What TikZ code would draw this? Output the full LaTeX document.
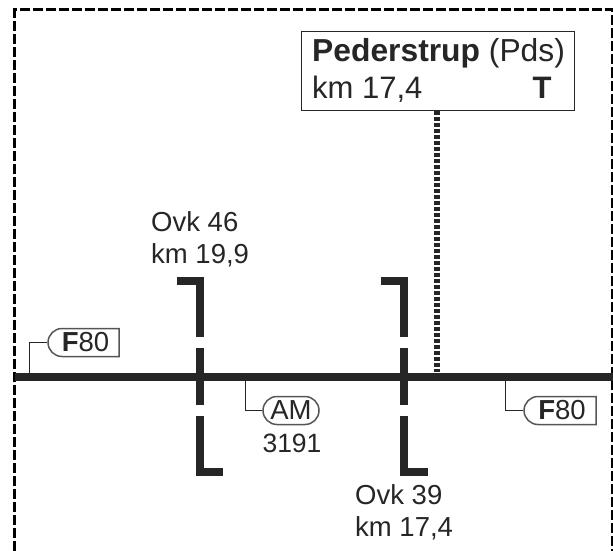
\documentclass[tikz,border=0pt]{standalone}
\usepackage{fontspec}
\setmainfont{Liberation Sans}
\usetikzlibrary{shapes.misc}
\definecolor{inkdark}{HTML}{262626}
\definecolor{signgrey}{HTML}{555555}
\tikzset{
    trackline/.style={draw=inkdark,line width=8pt},
    bridgebar/.style={draw=inkdark,line width=8.5pt,miter limit=10},
    leaderline/.style={draw=inkdark,line width=1pt},
    routesign/.style={draw=signgrey,line width=1.5pt,fill=white,text=inkdark,rounded rectangle,inner sep=0pt,minimum height=28pt,font=\fontsize{27.5}{27.5}\selectfont},
    flatright/.style={rounded rectangle east arc=none},
    ovklabel/.style={align=left,anchor=north west,inner sep=0pt,text=inkdark,font=\fontsize{27.5}{32}\selectfont}
}
\begin{document}
\begin{tikzpicture}[x=1pt,y=-1pt]
    \useasboundingbox (0,0) rectangle (613,551);
    % frame
    \coordinate (fa) at (14.5,551);
    \coordinate (fb) at (14.5,10);
    \coordinate (fc) at (612,10);
    \coordinate (fd) at (612,551);
    \draw[black,line width=3pt,dash pattern=on 10pt off 3pt] (fa) -- (fb) -- (fc) -- (fd);
    % track
    \coordinate (t0) at (15,376.5);
    \coordinate (t1) at (613,376.5);
    \coordinate (f1) at (29,376);
    \coordinate (a1) at (245.5,376);
    \coordinate (f2) at (505,376);
    \coordinate (d1) at (437,372);
    \path[trackline] (t0) -- (t1);
    % bridges
    \coordinate (b0) at (177,281);
    \coordinate (b1) at (200,281);
    \coordinate (b2) at (200,337);
    \coordinate (b3) at (200,348);
    \coordinate (b4) at (200,405);
    \coordinate (b5) at (200,416);
    \coordinate (b6) at (200,472);
    \coordinate (b7) at (223,472);
    \coordinate (c0) at (381,281);
    \coordinate (c1) at (404,281);
    \coordinate (c2) at (404,337);
    \coordinate (c3) at (404,348);
    \coordinate (c4) at (404,405);
    \coordinate (c5) at (404,416);
    \coordinate (c6) at (404,472);
    \coordinate (c7) at (428,472);
    \path[bridgebar] (b0) -- (b1) -- (b2);
    \path[bridgebar] (b3) -- (b4);
    \path[bridgebar] (b5) -- (b6) -- (b7);
    \path[bridgebar] (c0) -- (c1) -- (c2);
    \path[bridgebar] (c3) -- (c4);
    \path[bridgebar] (c5) -- (c6) -- (c7);
    % station
    \node[draw=inkdark,line width=1pt,fill=white,text=inkdark,minimum width=273pt,minimum height=78pt,inner sep=0pt] (pds) at (437.5,71) {};
    \node[anchor=base west,inner sep=0pt,text=inkdark,font=\fontsize{31.8}{30}\selectfont] (pdsname) at (312,62) {\textbf{Pederstrup} (Pds)};
    \node[anchor=base west,inner sep=0pt,text=inkdark,font=\fontsize{31}{28}\selectfont] (pdskm) at (312,98) {km 17,4};
    \node[anchor=base,inner sep=0pt,text=inkdark,font=\fontsize{31}{28}\selectfont\bfseries] (pdst) at (542,99) {T};
    \draw[inkdark,line width=5.5pt,dash pattern=on 4pt off 2pt] (pds.south -| d1) -- (d1);
    % signs
    \begin{scope}[every node/.style={routesign}]
        \node[flatright,minimum width=71pt] (f80a) at (85.5,342.5) {\textbf{F}80};
        \node[minimum width=56pt] (am) at (291,410.5) {AM};
        \node[flatright,minimum width=72pt] (f80b) at (562,410.5) {\textbf{F}80};
    \end{scope}
    \path[leaderline] (f1) |- (f80a.west);
    \path[leaderline] (a1) |- (am.west);
    \path[leaderline] (f2) |- (f80b.west);
    % labels
    \node[ovklabel] (ovk46) at (151,211) {Ovk 46\\km 19,9};
    \node[ovklabel] (ovk39) at (355,484) {Ovk 39\\km 17,4};
    \node[inner sep=0pt,text=inkdark,anchor=base,font=\fontsize{26.5}{31}\selectfont] (amnum) at (292,452) {3191};
\end{tikzpicture}
\end{document}
